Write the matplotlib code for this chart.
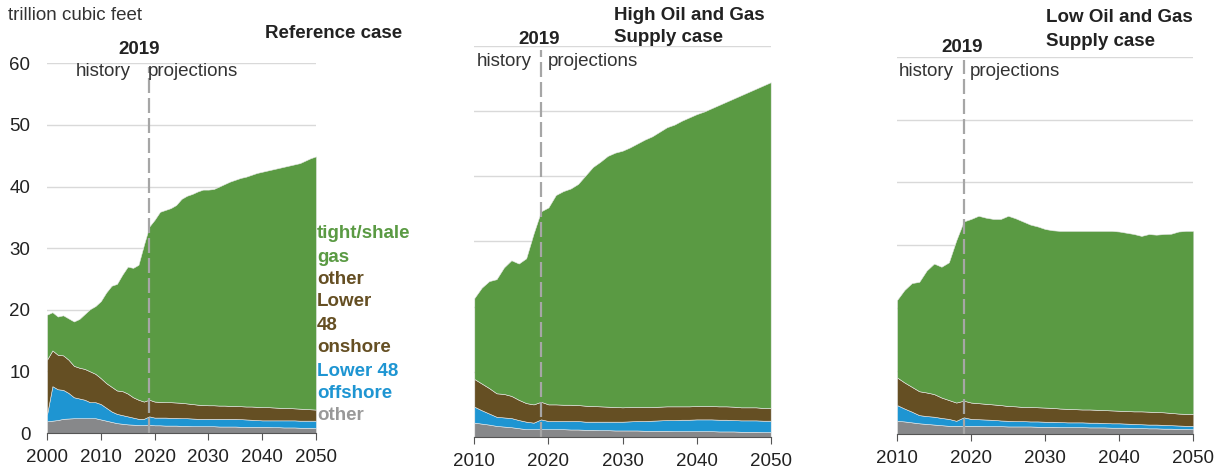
import numpy as np
import matplotlib
matplotlib.use("Agg")
import matplotlib.pyplot as plt

plt.rcParams['font.family'] = ['Liberation Sans', 'DejaVu Sans']

# ---- data (trillion cubic feet) ----
ref_years = np.arange(2000, 2051)
ref_other = [1.9, 2.0, 2.1, 2.3, 2.35, 2.4, 2.4, 2.4, 2.4, 2.4,
             2.2, 2.0, 1.8, 1.6, 1.5, 1.4, 1.35, 1.3, 1.3, 1.35,
             1.25, 1.25, 1.2, 1.2, 1.2, 1.15, 1.15, 1.1, 1.1, 1.1,
             1.1, 1.1, 1.05, 1.05, 1.05, 1.05, 1.0, 1.0, 1.0, 1.0,
             1.0, 1.0, 0.95, 0.95, 0.9, 0.9, 0.9, 0.85, 0.85, 0.85, 0.8]
ref_offshore = [1.1, 5.6, 5.0, 4.7, 4.15, 3.4, 3.2, 3.0, 2.6, 2.6,
                2.5, 2.1, 1.7, 1.5, 1.4, 1.3, 1.15, 1.0, 1.0, 1.35,
                1.25, 1.25, 1.3, 1.25, 1.25, 1.25, 1.25, 1.25, 1.2, 1.2,
                1.2, 1.2, 1.25, 1.25, 1.25, 1.25, 1.25, 1.2, 1.15, 1.1,
                1.05, 1.05, 1.1, 1.1, 1.15, 1.15, 1.15, 1.15, 1.15, 1.15, 1.2]
ref_onshore = [8.9, 5.8, 5.6, 5.6, 5.4, 5.1, 5.0, 5.0, 5.0, 4.6,
               4.2, 4.0, 4.0, 3.8, 3.9, 3.7, 3.3, 3.1, 2.8, 2.7,
               2.6, 2.55, 2.5, 2.55, 2.5, 2.5, 2.4, 2.35, 2.3, 2.25,
               2.2, 2.2, 2.15, 2.15, 2.1, 2.1, 2.1, 2.1, 2.15, 2.15,
               2.15, 2.15, 2.1, 2.05, 2.0, 2.0, 1.95, 1.95, 1.9, 1.85, 1.8]
ref_tight = [7.3, 6.2, 6.2, 6.5, 6.7, 7.2, 7.9, 8.9, 10.1, 11.0,
             12.5, 14.7, 16.4, 17.3, 18.9, 20.6, 21.0, 21.9, 25.4, 28.1,
             29.5, 30.85, 31.2, 31.5, 32.05, 33.1, 33.7, 34.1, 34.6, 34.95,
             35.0, 35.1, 35.55, 35.95, 36.4, 36.7, 37.05, 37.3, 37.6, 37.95,
             38.2, 38.4, 38.65, 38.9, 39.15, 39.35, 39.6, 39.85, 40.3, 40.75, 41.1]

case_years = np.arange(2010, 2051)
high_other = [2.2, 2.05, 1.9, 1.7, 1.6, 1.5, 1.35, 1.2, 1.2, 1.2,
              1.2, 1.2, 1.2, 1.15, 1.15, 1.1, 1.1, 1.05, 1.05, 1.0,
              1.0, 1.0, 1.0, 0.95, 0.95, 0.95, 0.95, 0.9, 0.9, 0.9,
              0.9, 0.9, 0.9, 0.85, 0.85, 0.85, 0.8, 0.8, 0.8, 0.75, 0.75]
high_offshore = [2.45, 2.05, 1.7, 1.4, 1.4, 1.4, 1.25, 1.15, 1.0, 1.5,
                 1.25, 1.25, 1.25, 1.3, 1.3, 1.25, 1.25, 1.3, 1.3, 1.35,
                 1.35, 1.4, 1.45, 1.5, 1.55, 1.6, 1.65, 1.7, 1.75, 1.75,
                 1.8, 1.8, 1.8, 1.8, 1.8, 1.75, 1.75, 1.75, 1.75, 1.75, 1.75]
high_onshore = [4.25, 4.1, 3.9, 3.6, 3.6, 3.4, 3.1, 2.85, 2.8, 2.7,
                2.55, 2.55, 2.5, 2.5, 2.45, 2.45, 2.4, 2.35, 2.3, 2.25,
                2.2, 2.2, 2.15, 2.15, 2.1, 2.1, 2.1, 2.1, 2.05, 2.05,
                2.05, 2.05, 2.05, 2.05, 2.05, 2.05, 2.0, 2.0, 2.0, 1.95, 1.95]
high_tight = [12.4, 14.7, 16.4, 17.5, 19.4, 20.8, 20.9, 22.2, 26.2, 29.2,
              30.2, 32.1, 32.75, 33.15, 33.9, 35.3, 36.65, 37.5, 38.45, 39.0,
              39.35, 39.8, 40.4, 41.0, 41.5, 42.15, 42.8, 43.2, 43.8, 44.3,
              44.75, 45.15, 45.65, 46.2, 46.7, 47.25, 47.85, 48.35, 48.85, 49.45, 49.95]

low_other = [2.1, 2.0, 1.85, 1.7, 1.6, 1.5, 1.4, 1.3, 1.3, 1.3,
             1.3, 1.3, 1.25, 1.25, 1.25, 1.2, 1.2, 1.2, 1.2, 1.15,
             1.15, 1.15, 1.1, 1.1, 1.1, 1.1, 1.05, 1.05, 1.05, 1.0,
             1.0, 1.0, 0.95, 0.95, 0.9, 0.9, 0.85, 0.85, 0.8, 0.8, 0.75]
low_offshore = [2.5, 2.05, 1.7, 1.3, 1.25, 1.25, 1.15, 1.1, 0.8, 1.35,
                1.1, 1.05, 1.05, 1.0, 0.9, 0.9, 0.85, 0.85, 0.8, 0.85,
                0.8, 0.8, 0.8, 0.75, 0.75, 0.75, 0.75, 0.75, 0.7, 0.7,
                0.7, 0.65, 0.65, 0.6, 0.6, 0.6, 0.6, 0.55, 0.55, 0.5, 0.55]
low_onshore = [4.4, 4.15, 3.95, 3.8, 3.75, 3.6, 3.25, 3.0, 2.9, 2.65,
               2.6, 2.55, 2.5, 2.45, 2.45, 2.35, 2.35, 2.25, 2.3, 2.25,
               2.25, 2.2, 2.15, 2.15, 2.1, 2.05, 2.1, 2.05, 2.05, 2.05,
               2.0, 2.0, 2.0, 2.05, 2.05, 2.0, 2.0, 1.95, 1.9, 1.9, 1.9]
low_tight = [12.3, 14.7, 16.5, 17.4, 19.4, 20.75, 20.8, 21.9, 25.8, 28.5,
             29.2, 29.8, 29.6, 29.5, 29.6, 30.25, 29.9, 29.5, 29.0, 28.75,
             28.4, 28.25, 28.25, 28.3, 28.35, 28.4, 28.4, 28.45, 28.5, 28.55,
             28.5, 28.35, 28.2, 27.9, 28.25, 28.2, 28.35, 28.5, 28.95, 29.1, 29.1]

colors = ['#87888a', '#1e95d2', '#654f23', '#5a9a43']
legend_labels = ['tight/shale\ngas', 'other\nLower\n48\nonshore', 'Lower 48\noffshore', 'other']
legend_colors = ['#5a9a43', '#654f23', '#1e95d2', '#999999']

FS = 13.5
W, H = 1219, 471
fig = plt.figure(figsize=(W / 100, H / 100), dpi=100)


def px_axes(x0, x1, y0, y60):
    # pixel box -> figure fraction
    return fig.add_axes([x0 / W, 1 - y0 / H, (x1 - x0) / W, (y0 - y60) / H])


def panel(ax, years, series, xticks, show_y):
    ax.stackplot(years, *series, colors=colors, edgecolor='#e8e8e8', linewidth=0.4)
    ax.set_xlim(years[0], years[-1])
    ax.set_ylim(0, 60)
    ax.set_yticks(range(0, 61, 10))
    ax.set_xticks(xticks)
    ax.grid(axis='y', color='#d9d9d9', linewidth=1)
    ax.set_axisbelow(True)
    for s in ['top', 'right', 'left']:
        ax.spines[s].set_visible(False)
    ax.spines['bottom'].set_color('#555555')
    ax.spines['bottom'].set_zorder(5)
    ax.tick_params(axis='x', length=5, color='#555555', labelsize=FS, pad=6.5, labelcolor='#222222')
    ax.tick_params(axis='y', length=0, labelsize=FS, pad=12, labelcolor='#222222')
    if not show_y:
        ax.set_yticklabels([])
    ax.axvline(2019, ymin=0, ymax=0.99, color='#a6a6a6', linestyle=(0, (6.75, 2.25)),
               linewidth=1.6, zorder=4)


ax1 = px_axes(47, 316, 433, 63.3)
panel(ax1, ref_years, [ref_other, ref_offshore, ref_onshore, ref_tight],
      range(2000, 2051, 10), True)
ax2 = px_axes(474.3, 770.7, 437, 45.7)
panel(ax2, case_years, [high_other, high_offshore, high_onshore, high_tight],
      range(2010, 2051, 10), False)
ax3 = px_axes(897, 1193.3, 434, 56.7)
panel(ax3, case_years, [low_other, low_offshore, low_onshore, low_tight],
      range(2010, 2051, 10), False)

# text annotations, placed in pixels
def ftext(x, y, s, **kw):
    fig.text(x / W, 1 - (y + 2) / H, s, **kw)

ftext(8, 14, 'trillion cubic feet', fontsize=FS, color='#333333', va='center')
ftext(402, 31, 'Reference case', fontsize=FS, fontweight='bold', ha='right', va='center', color='#222222')
ftext(614, 13, 'High Oil and Gas', fontsize=FS, fontweight='bold', va='center', color='#222222')
ftext(614, 36, 'Supply case', fontsize=FS, fontweight='bold', va='center', color='#222222')
ftext(1046, 16, 'Low Oil and Gas', fontsize=FS, fontweight='bold', va='center', color='#222222')
ftext(1046, 39, 'Supply case', fontsize=FS, fontweight='bold', va='center', color='#222222')

for cx, y2019, yhist, xh, xp in [(139, 47, 70, 131, 148), (539, 37, 60, 532, 548), (962, 46, 70, 954, 970)]:
    ftext(cx, y2019, '2019', fontsize=FS, fontweight='bold', ha='center', va='center', color='#222222')
    ftext(xh, yhist, 'history', fontsize=FS, ha='right', va='center', color='#333333')
    ftext(xp, yhist, 'projections', fontsize=FS, ha='left', va='center', color='#333333')

# legend labels on the right of the first panel
lab_y = [232, 277, 369, 414]
for lab, col, y in zip(legend_labels, legend_colors, lab_y):
    for k, line in enumerate(lab.split('\n')):
        ftext(317, y + 23 * k, line, fontsize=FS, fontweight='bold', color=col, va='center')

fig.savefig('out.png', dpi=100)
